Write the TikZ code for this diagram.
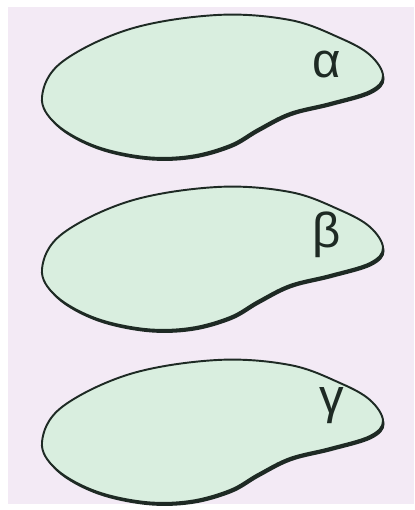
\documentclass[tikz,border=0pt]{standalone}
\usepackage{fontspec}
\usepackage{tikz}
\usetikzlibrary{positioning}
\newfontfamily\greekfont{Liberation Sans}
\definecolor{lavback}{RGB}{243,234,245}
\definecolor{setfill}{RGB}{217,238,223}
\definecolor{setline}{RGB}{30,42,36}
\tikzset{
  blob/.style={fill=setfill,draw=setline,line width=1.1pt},
  blobshadow/.style={fill=setline},
  setname/.style={font=\greekfont\fontsize{28}{32}\selectfont,text=setline,inner sep=0pt}
}
\begin{document}
\begin{tikzpicture}[x=0.02cm,y=-0.02cm]
 \useasboundingbox (0,0) rectangle (414,510);
 \fill[white] (0,0) rectangle (414,510);
 \fill[lavback] (8,7) rectangle (414,504);
 % three sets, one below the other
 \foreach \dy/\v/\n/\lx/\ly in {0/α/a/327/65,172/β/b/327/63,345/γ/c/332/61}
 {
  \begin{scope}[yshift=-\dy*0.02cm]
   \fill[blobshadow,shift={(1.5,3)}] plot[smooth cycle,tension=0.6] coordinates
     {(42,97) (62,62) (130,29) (217,15) (290,20) (340,38) (370,55) (383,76) (370,91)
      (330,103) (290,113) (258,129) (230,145) (190,156) (145,157) (95,146) (56,124)};
   \filldraw[blob] plot[smooth cycle,tension=0.6] coordinates
     {(42,97) (62,62) (130,29) (217,15) (290,20) (340,38) (370,55) (383,76) (370,91)
      (330,103) (290,113) (258,129) (230,145) (190,156) (145,157) (95,146) (56,124)};
   \node[setname] (lab-\n) at (\lx,\ly) {\v};
  \end{scope}
 }
\end{tikzpicture}
\end{document}
